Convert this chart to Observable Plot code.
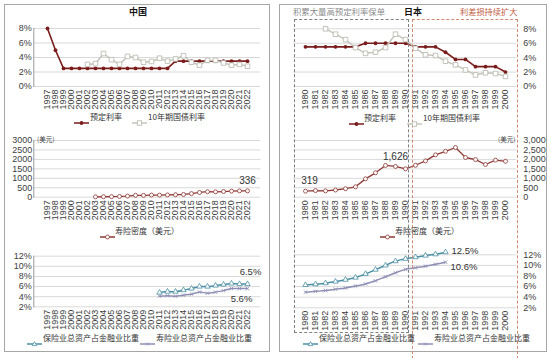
<!DOCTYPE html>
<html><head><meta charset="utf-8">
<script src="https://cdn.jsdelivr.net/npm/d3@7"></script>
<script src="https://cdn.jsdelivr.net/npm/@observablehq/plot@0.6"></script>
<style>
body{margin:0;background:#fff;font-family:"Liberation Sans",Arial,"Noto Sans CJK SC",sans-serif;}
#root{position:relative;width:550px;height:358px;overflow:hidden;background:#fff;}
.panel{position:absolute;border:1px solid #a6a6a6;box-sizing:border-box;}
.t{position:absolute;white-space:nowrap;line-height:1;font-family:"Liberation Sans",Arial,"Noto Sans CJK SC",sans-serif;}
.lg{position:absolute;white-space:nowrap;font-size:8px;line-height:10px;color:#333;font-family:"Noto Sans CJK SC",sans-serif;}
.sw{position:absolute;}
.box{position:absolute;box-sizing:border-box;}
</style></head><body><div id="root"></div>
<script>
// ---------- data ----------
const cnYears = ["1997","1998","1999","2000","2001","2002","2003","2004","2005","2006","2007","2008","2009","2010","2011","2012","2013","2014","2015","2016","2017","2018","2019","2020","2021","2022"];
const cnPricingRate = [8,5,2.5,2.5,2.5,2.5,2.5,2.5,2.5,2.5,2.5,2.5,2.5,2.5,2.5,2.5,3.5,3.5,3.5,3.5,3.5,3.5,3.5,3.5,3.5,3.5];
const cnBondYears = ["2002","2003","2004","2005","2006","2007","2008","2009","2010","2011","2012","2013","2014","2015","2016","2017","2018","2019","2020","2021","2022"];
const cnBondYield = [3.05,3.15,4.55,3.7,3.05,4.15,4.0,3.35,3.45,3.9,3.5,3.8,4.25,3.35,2.95,3.6,3.6,3.25,2.95,3.05,2.8];
const cnDensityYears = ["2003","2004","2005","2006","2007","2008","2009","2010","2011","2012","2013","2014","2015","2016","2017","2018","2019","2020","2021","2022"];
const cnDensity = [20,25,30,40,60,100,95,115,110,120,130,145,190,250,290,285,300,320,335,336];
const cnAssetYears = ["2011","2012","2013","2014","2015","2016","2017","2018","2019","2020","2021","2022"];
const cnInsShare = [4.8,5.0,5.0,5.3,5.6,6.0,6.0,6.2,6.4,6.6,6.5,6.5];
const cnLifeShare = [4.1,4.2,4.1,4.3,4.5,4.9,4.7,4.9,5.2,5.6,5.6,5.6];

const jpYears = ["1980","1981","1982","1983","1984","1985","1986","1987","1988","1989","1990","1991","1992","1993","1994","1995","1996","1997","1998","1999","2000"];
const jpPricingRate = [5.5,5.5,5.5,5.5,5.5,5.5,6,6,6,6,6,5.5,5.5,5.5,4.75,3.75,3.75,2.75,2.75,2.75,2];
const jpBondYears = ["1982","1983","1984","1985","1986","1987","1988","1989","1990","1991","1992","1993","1994","1995","1996","1997","1998","1999","2000"];
const jpBondYield = [8.0,7.25,6.5,5.4,4.6,4.75,5.4,7.25,6.5,5.3,4.4,4.3,3.5,3.0,2.3,1.6,1.9,1.8,1.4];
const jpDensity = [319,350,335,380,450,550,970,1290,1680,1626,1500,1690,1920,2240,2430,2630,2100,1990,1730,1960,1900];
const jpAssetYears = ["1980","1981","1982","1983","1984","1985","1986","1987","1988","1989","1990","1991","1992","1993","1994"];
const jpInsShare = [6.3,6.45,6.65,6.95,7.3,7.7,8.4,9.2,10.0,10.8,11.25,11.55,11.85,12.1,12.5];
const jpLifeShare = [4.95,5.1,5.25,5.5,5.75,6.1,6.5,7.1,7.85,8.6,9.25,9.55,9.85,10.2,10.6];

const rateTicks = [0,2,4,6,8];
const densityTicks = [0,500,1000,1500,2000,2500,3000];
const shareTicks = [2,4,6,8,10,12];

const seriesNames = {rate:"预定利率", bond:"10年期国债利率", density:"寿险密度（美元）", ins:"保险业总资产占金融业比重", life:"寿险业总资产占金融业比重"};

// ---------- tables ----------
const tab = (xs, vs) => xs.map((year,i)=>({year, v:vs[i]}));
const cnRate = tab(cnYears, cnPricingRate), cnBond = tab(cnBondYears, cnBondYield);
const cnDen = tab(cnDensityYears, cnDensity);
const cnIns = tab(cnAssetYears, cnInsShare), cnLife = tab(cnAssetYears, cnLifeShare);
const jpRate = tab(jpYears, jpPricingRate), jpBond = tab(jpBondYears, jpBondYield);
const jpDen = tab(jpYears, jpDensity);
const jpIns = tab(jpAssetYears, jpInsShare), jpLife = tab(jpAssetYears, jpLifeShare);

// ---------- styles ----------
const RED = "#7b1c1c", GRAYL = "#c6c6bc", DEN = "#8e3a36", TEAL = "#4a8fa3", PURP = "#8f8fb5", GRID = "#d9d9d9";
const root = document.getElementById("root");
const baseStyle = {fontFamily:"'Liberation Sans', Arial, sans-serif", fontSize:"9px", color:"#404040", background:"transparent", overflow:"visible"};
function place(el, left, top){ el.style.position="absolute"; el.style.left=left+"px"; el.style.top=top+"px"; root.appendChild(el); return el; }
function div(cls, left, top, html, extra){ const d=document.createElement("div"); d.className=cls; d.style.left=left+"px"; d.style.top=top+"px"; d.innerHTML=html; if(extra) Object.assign(d.style, extra); root.appendChild(d); return d; }

const xCN = {type:"point", domain:cnYears, padding:0.5};
const xJP = {type:"point", domain:jpYears, padding:0.5};
const CN = {width:270, marginLeft:33.3, marginRight:9.6};
const JP = {width:275, marginLeft:18.2, marginRight:33.7};
const xAxis = () => Plot.axisX({tickRotate:-90, tickSize:0, tickPadding:3, label:null, fontSize:9});
const yAxisL = (ticks, fmt, pad) => Plot.axisY(ticks, {tickSize:0, tickPadding:pad, tickFormat:fmt, label:null, fontSize:9});
const yAxisR = (ticks, fmt) => Plot.axisY(ticks, {anchor:"right", tickSize:0, tickPadding:6.5, tickFormat:fmt, label:null, fontSize:9});
const pct = d => d + "%";

// panels
div("panel",4,4,"",{width:"266px",height:"348px"});
div("panel",279,4,"",{width:"268px",height:"348px"});

// ---------- China: rates ----------
place(Plot.plot({...CN, height:96, marginTop:8, marginBottom:30, style:baseStyle,
  x:xCN, y:{domain:[0,8]},
  marks:[
    Plot.ruleY(rateTicks,{stroke:GRID}),
    Plot.frame({anchor:"left", stroke:"#9a9a9a"}),
    xAxis(), yAxisL(rateTicks, pct, 2),
    Plot.line(cnRate,{x:"year",y:"v",stroke:RED,strokeWidth:1.6}),
    Plot.dot(cnRate,{x:"year",y:"v",fill:RED,r:1.9}),
    Plot.line(cnBond,{x:"year",y:"v",stroke:GRAYL,strokeWidth:1.5}),
    Plot.dot(cnBond,{x:"year",y:"v",symbol:"square",r:2.6,fill:"white",stroke:"#b5b5ab",strokeWidth:0.8})
  ]}), 0, 20);

// ---------- China: density ----------
place(Plot.plot({...CN, height:97, marginTop:10, marginBottom:30.3, style:baseStyle,
  x:xCN, y:{domain:[0,3000]},
  marks:[
    Plot.ruleY(densityTicks,{stroke:GRID}),
    Plot.frame({anchor:"left", stroke:"#9a9a9a"}),
    xAxis(), yAxisL(densityTicks, d=>String(d), 1.5),
    Plot.line(cnDen,{x:"year",y:"v",stroke:DEN,strokeWidth:1.3}),
    Plot.dot(cnDen,{x:"year",y:"v",r:2,fill:"white",stroke:DEN,strokeWidth:0.8}),
    Plot.text(cnDen.slice(-1),{x:"year",y:"v",text:d=>String(d.v),dy:-10,fontSize:10,fill:"#333"})
  ]}), 0, 130);

// ---------- China: asset share ----------
place(Plot.plot({...CN, height:89, marginTop:10.7, marginBottom:27.7, style:baseStyle,
  x:xCN, y:{domain:[2,12]},
  marks:[
    Plot.ruleY(shareTicks,{stroke:GRID}),
    Plot.frame({anchor:"left", stroke:"#9a9a9a"}),
    xAxis(), yAxisL(shareTicks, pct, 2),
    Plot.line(cnLife,{x:"year",y:"v",stroke:PURP,strokeWidth:1.5,curve:"catmull-rom"}),
    Plot.dot(cnLife,{x:"year",y:"v",symbol:"times",r:1.8,stroke:PURP,strokeWidth:0.8}),
    Plot.line(cnIns,{x:"year",y:"v",stroke:TEAL,strokeWidth:1.5,curve:"catmull-rom"}),
    Plot.dot(cnIns,{x:"year",y:"v",symbol:"triangle",r:2,fill:"white",stroke:TEAL,strokeWidth:0.8}),
    Plot.text(cnIns.slice(-1),{x:"year",y:"v",text:d=>d.v.toFixed(1)+"%",dx:3,dy:-12,fontSize:9.5,fill:"#333"}),
    Plot.text(cnLife.slice(-1),{x:"year",y:"v",text:d=>d.v.toFixed(1)+"%",dx:-6,dy:10,fontSize:9.5,fill:"#333"})
  ]}), 0, 245);

// ---------- Japan: rates ----------
place(Plot.plot({...JP, height:96, marginTop:8.3, marginBottom:30, style:baseStyle,
  x:xJP, y:{domain:[0,8]},
  marks:[
    Plot.ruleY(rateTicks,{stroke:GRID}),
    xAxis(), yAxisR(rateTicks, pct),
    Plot.line(jpRate,{x:"year",y:"v",stroke:RED,strokeWidth:1.6}),
    Plot.dot(jpRate,{x:"year",y:"v",fill:RED,r:1.9}),
    Plot.line(jpBond,{x:"year",y:"v",stroke:GRAYL,strokeWidth:1.5}),
    Plot.dot(jpBond,{x:"year",y:"v",symbol:"square",r:2.6,fill:"white",stroke:"#b5b5ab",strokeWidth:0.8})
  ]}), 275, 20);

// ---------- Japan: density ----------
place(Plot.plot({...JP, height:97, marginTop:10, marginBottom:30.3, style:baseStyle,
  x:xJP, y:{domain:[0,3000]},
  marks:[
    Plot.ruleY(densityTicks,{stroke:GRID}),
    xAxis(), yAxisR(densityTicks, d3.format(",")),
    Plot.line(jpDen,{x:"year",y:"v",stroke:DEN,strokeWidth:1.3}),
    Plot.dot(jpDen,{x:"year",y:"v",r:2,fill:"white",stroke:DEN,strokeWidth:0.8}),
    Plot.text(jpDen.filter(d=>d.year==="1980"),{x:"year",y:"v",text:d=>d3.format(",")(d.v),dx:4,dy:-10,fontSize:10,fill:"#333"}),
    Plot.text(jpDen.filter(d=>d.year==="1989"),{x:"year",y:"v",text:d=>d3.format(",")(d.v),dx:0,dy:-10,fontSize:10,fill:"#333"})
  ]}), 275, 130);

// ---------- Japan: asset share ----------
place(Plot.plot({...JP, height:89, marginTop:9.3, marginBottom:26.7, style:baseStyle,
  x:xJP, y:{domain:[2,12]},
  marks:[
    Plot.ruleY(shareTicks,{stroke:GRID}),
    xAxis(), yAxisR(shareTicks, pct),
    Plot.line(jpLife,{x:"year",y:"v",stroke:PURP,strokeWidth:1.5,curve:"catmull-rom"}),
    Plot.dot(jpLife,{x:"year",y:"v",symbol:"times",r:1.8,stroke:PURP,strokeWidth:0.8}),
    Plot.line(jpIns,{x:"year",y:"v",stroke:TEAL,strokeWidth:1.5,curve:"catmull-rom"}),
    Plot.dot(jpIns,{x:"year",y:"v",symbol:"triangle",r:2,fill:"white",stroke:TEAL,strokeWidth:0.8}),
    Plot.text(jpIns.slice(-1),{x:"year",y:"v",text:d=>d.v.toFixed(1)+"%",textAnchor:"start",dx:6,dy:-1.5,fontSize:9.5,fill:"#333"}),
    Plot.text(jpLife.slice(-1),{x:"year",y:"v",text:d=>d.v.toFixed(1)+"%",textAnchor:"start",dx:5,dy:5,fontSize:9.5,fill:"#333"})
  ]}), 275, 245);

// ---------- titles & annotations ----------
div("t",129,7,"中国",{fontSize:"9px",fontWeight:"bold",color:"#111",fontFamily:"'Noto Sans CJK SC',sans-serif"});
div("t",293,7,"积累大量高预定利率保单",{fontSize:"8.4px",color:"#8a8a8a",fontFamily:"'Noto Sans CJK SC',sans-serif"});
div("t",404,7,"日本",{fontSize:"9px",fontWeight:"bold",color:"#111",fontFamily:"'Noto Sans CJK SC',sans-serif"});
div("t",460,7,"利差损持续扩大",{fontSize:"8.2px",color:"#c0583e",fontFamily:"'Noto Sans CJK SC',sans-serif"});
div("t",37,136,"(美元)",{fontSize:"6.5px",color:"#404040",fontFamily:"'Noto Sans CJK SC',sans-serif"});
div("t",498,136,"(美元)",{fontSize:"6.5px",color:"#404040",fontFamily:"'Noto Sans CJK SC',sans-serif"});

// dashed boxes
div("box",294,19,"",{width:"115px",height:"314px",border:"1px dashed #808080"});
div("box",412,19,"",{width:"106px",height:"345px",border:"1px dashed #d08a72",borderBottom:"none"});

// ---------- legends ----------
function swatch(x, y, color, kind){
  let m = "";
  if(kind==="fill") m = `<circle cx="7.5" cy="4" r="1.9" fill="${color}"/>`;
  if(kind==="square") m = `<rect x="5.3" y="1.8" width="4.4" height="4.4" fill="white" stroke="#b5b5ab" stroke-width="0.8"/>`;
  if(kind==="circle") m = `<circle cx="7.5" cy="4" r="2" fill="white" stroke="${color}" stroke-width="0.8"/>`;
  if(kind==="triangle") m = `<path d="M7.5,1.6L9.8,5.6L5.2,5.6Z" fill="white" stroke="${color}" stroke-width="0.8"/>`;
  if(kind==="times") m = `<path d="M6,2.5L9,5.5M9,2.5L6,5.5" stroke="${color}" stroke-width="0.8"/>`;
  const d = div("sw", x, y-4, `<svg width="15" height="8"><line x1="0" y1="4" x2="15" y2="4" stroke="${color}" stroke-width="1.5"/>${m}</svg>`);
  d.style.height="8px";
}
function legendText(x, y, txt){ div("lg", x, y-5, txt); }

swatch(74,117,RED,"fill"); legendText(90,117,seriesNames.rate);
swatch(132,117,GRAYL,"square"); legendText(148,117,seriesNames.bond);
swatch(349,118,RED,"fill"); legendText(364,118,seriesNames.rate);
swatch(407,118,GRAYL,"square"); legendText(423,118,seriesNames.bond);

swatch(100,231,DEN,"circle"); legendText(115,231,seriesNames.density);
swatch(380,231,DEN,"circle"); legendText(395,231,seriesNames.density);

swatch(27,338,TEAL,"triangle"); legendText(43,338,seriesNames.ins);
swatch(140,338,PURP,"times"); legendText(156,338,seriesNames.life);
swatch(303,338,TEAL,"triangle"); legendText(319,338,seriesNames.ins);
swatch(418,338,PURP,"times"); legendText(434,338,seriesNames.life);
</script>
</body></html>
